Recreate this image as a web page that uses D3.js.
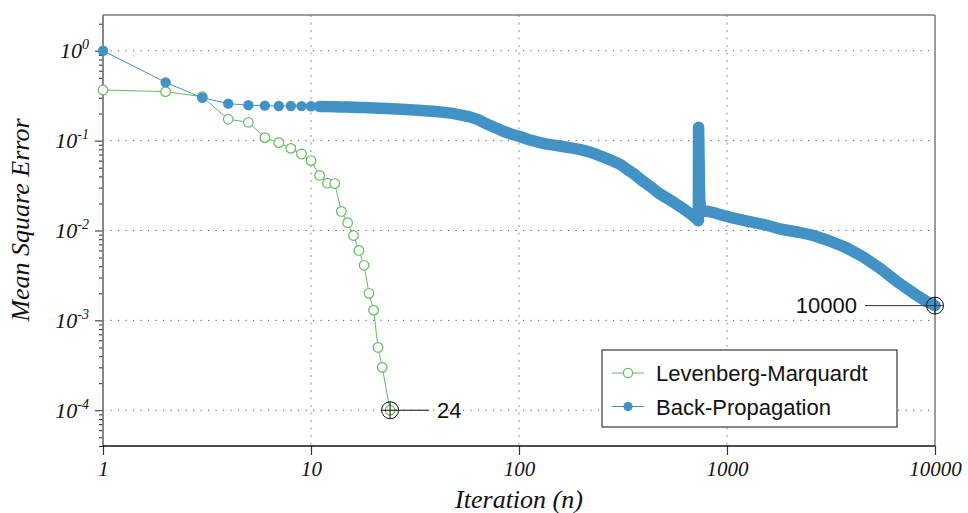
<!DOCTYPE html>
<html>
<head>
<meta charset="utf-8">
<script src="https://cdn.jsdelivr.net/npm/d3@7"></script>
<style>
  body { margin: 0; background: #fff; }
</style>
</head>
<body>
<svg id="chart" width="968" height="513"></svg>
<script>
// Training error per iteration for two training algorithms
const seriesNames = ["Levenberg-Marquardt", "Back-Propagation"];

const lmIter = [1, 2, 3, 4, 5, 6, 7, 8, 9, 10, 11, 12, 13, 14, 15, 16, 17, 18, 19, 20, 21, 22, 24];
const lmMse  = [0.366, 0.351, 0.308, 0.173, 0.160, 0.108, 0.095, 0.082, 0.071, 0.060,
                0.041, 0.0336, 0.0333, 0.0163, 0.0122, 0.0088, 0.0060, 0.0041, 0.0020,
                0.0013, 0.00050, 0.00030, 0.00010];

const bpIter = [1, 2, 3, 4, 5, 6, 7, 8, 9, 10, 11, 12, 13, 14, 15, 16, 17, 18, 19, 20,
                23, 26, 30, 34, 40, 48, 58, 64, 70, 77, 84, 92, 101, 111, 122, 134, 147,
                162, 177, 195, 213, 233, 256, 280, 308, 335, 355, 390, 427, 470, 513, 565,
                620, 670, 718, 728, 730, 731, 732, 733, 734, 735, 736, 737, 738, 740, 745,
                760, 800, 875, 960, 1066, 1250, 1540, 1800, 2236, 2600, 3100, 3760, 4500,
                5440, 6560, 7900, 9000, 10000];
const bpMse  = [1.0, 0.445, 0.300, 0.258, 0.248, 0.245, 0.243, 0.243, 0.242, 0.241,
                0.240, 0.239, 0.238, 0.237, 0.236, 0.235, 0.234, 0.233, 0.232, 0.231,
                0.228, 0.225, 0.221, 0.217, 0.211, 0.201, 0.184, 0.170, 0.153, 0.139,
                0.127, 0.118, 0.111, 0.103, 0.097, 0.092, 0.089, 0.086, 0.083, 0.080,
                0.076, 0.071, 0.065, 0.060, 0.054, 0.047, 0.043, 0.036, 0.031, 0.026,
                0.023, 0.020, 0.0173, 0.0152, 0.0133, 0.0128, 0.141, 0.118, 0.100, 0.080,
                0.062, 0.050, 0.041, 0.033, 0.027, 0.022, 0.018, 0.0165, 0.0164, 0.0157,
                0.0147, 0.0138, 0.0127, 0.0115, 0.0104, 0.0095, 0.0088, 0.0077, 0.0064,
                0.0051, 0.0038, 0.0027, 0.0020, 0.00165, 0.00146];

const xTicks = [1, 10, 100, 1000, 10000];
const yTicks = [1, 0.1, 0.01, 0.001, 0.0001];

const lmColor = "#62bb62";
const bpColor = "#4292c6";
const serif = "'Liberation Serif', 'Times New Roman', serif";
const sans = "'Liberation Sans', Arial, Helvetica, sans-serif";

const plot = { left: 103, right: 935, top: 15, bottom: 446 };
const x = d3.scaleLog().domain([1, 10000]).range([plot.left, plot.right]);
const y = d3.scaleLog().domain([4e-5, 2.5]).range([plot.bottom, plot.top]);

const svg = d3.select("#chart");

const lmData = lmIter.map((n, i) => ({ n, v: lmMse[i] }));
const bpData = bpIter.map((n, i) => ({ n, v: bpMse[i] }));

// Grid: horizontal dotted lines at each decade, lighter vertical ones
svg.append("g").selectAll("line").data(yTicks).join("line")
  .attr("x1", plot.left).attr("x2", plot.right)
  .attr("y1", d => y(d)).attr("y2", d => y(d))
  .attr("stroke", "#555").attr("stroke-width", 1)
  .attr("stroke-dasharray", "1.2,6.3");
svg.append("g").selectAll("line").data(xTicks.filter(d => d > 1 && d < 10000)).join("line")
  .attr("x1", d => x(d)).attr("x2", d => x(d))
  .attr("y1", plot.top).attr("y2", plot.bottom)
  .attr("stroke", "#b5b5b5").attr("stroke-width", 1.5)
  .attr("stroke-dasharray", "2,5.5");

// Y axis: major decade ticks with power-of-ten labels, minor ticks in between
const yMinor = [];
for (let e = -5; e <= 0; e++) {
  for (let m = 2; m <= 9; m++) {
    const v = m * Math.pow(10, e);
    if (v >= 4e-5 && v <= 2.5) yMinor.push(v);
  }
}
const yMajorAxis = svg.append("g").attr("transform", `translate(${plot.left},0)`)
  .call(d3.axisLeft(y).tickValues(yTicks).tickSize(8).tickFormat(""));
const yMinorAxis = svg.append("g").attr("transform", `translate(${plot.left},0)`)
  .call(d3.axisLeft(y).tickValues(yMinor).tickSize(4).tickFormat(""));
[yMajorAxis, yMinorAxis].forEach(g => {
  g.select(".domain").remove();
  g.selectAll(".tick line").attr("stroke", "#222").attr("stroke-width", 1);
});

const yLabels = svg.append("g").selectAll("text").data(yTicks).join("text")
  .attr("x", plot.left - 14)
  .attr("y", d => y(d) + 7.5)
  .attr("text-anchor", "end")
  .attr("font-family", serif)
  .attr("font-style", "italic")
  .attr("font-size", 22)
  .attr("fill", "#111");
yLabels.append("tspan").text("10");
yLabels.append("tspan")
  .attr("font-size", 14)
  .attr("dy", -9)
  .text(d => String(Math.round(Math.log10(d))));

// X axis
const xAxis = svg.append("g").attr("transform", `translate(0,${plot.bottom})`)
  .call(d3.axisBottom(x).tickValues(xTicks).tickSize(9).tickFormat(d3.format("d")));
xAxis.select(".domain").remove();
xAxis.selectAll(".tick line").attr("stroke", "#333").attr("stroke-width", 1.2);
xAxis.selectAll(".tick text")
  .attr("y", 15)
  .attr("font-family", serif)
  .attr("font-style", "italic")
  .attr("font-size", 21)
  .attr("fill", "#111");

// Plot frame
const frame = svg.append("g");
frame.append("line").attr("x1", plot.left).attr("x2", plot.right)
  .attr("y1", plot.top).attr("y2", plot.top)
  .attr("stroke", "#7a7a7a").attr("stroke-width", 1.5);
frame.append("line").attr("x1", plot.left).attr("x2", plot.left)
  .attr("y1", plot.top).attr("y2", plot.bottom)
  .attr("stroke", "#7a7a7a").attr("stroke-width", 1.8);
frame.append("line").attr("x1", plot.right).attr("x2", plot.right)
  .attr("y1", plot.top).attr("y2", plot.bottom)
  .attr("stroke", "#7a7a7a").attr("stroke-width", 1.5);
frame.append("line").attr("x1", plot.left).attr("x2", plot.right)
  .attr("y1", plot.bottom).attr("y2", plot.bottom)
  .attr("stroke", "#111").attr("stroke-width", 1.3);

// Axis titles
svg.append("text")
  .attr("x", (plot.left + plot.right) / 2).attr("y", 507.5)
  .attr("text-anchor", "middle")
  .attr("font-family", serif).attr("font-style", "italic").attr("font-size", 26)
  .attr("fill", "#111")
  .text("Iteration (n)");
svg.append("text")
  .attr("transform", "translate(29,220) rotate(-90)")
  .attr("text-anchor", "middle")
  .attr("font-family", serif).attr("font-style", "italic").attr("font-size", 26)
  .attr("fill", "#111")
  .text("Mean Square Error");

const line = d3.line().x(d => x(d.n)).y(d => y(d.v));

// Levenberg-Marquardt: thin line with open circles
svg.append("path").datum(lmData)
  .attr("d", line).attr("fill", "none")
  .attr("stroke", lmColor).attr("stroke-width", 1);
svg.append("g").selectAll("circle").data(lmData).join("circle")
  .attr("cx", d => x(d.n)).attr("cy", d => y(d.v)).attr("r", 4.8)
  .attr("fill", "#fff").attr("stroke", lmColor).attr("stroke-width", 1.2);

// Back-Propagation: filled markers; where iterations crowd together they merge into a band
svg.append("path").datum(bpData.filter(d => d.n >= 11))
  .attr("d", line).attr("fill", "none")
  .attr("stroke", bpColor).attr("stroke-width", 11.5)
  .attr("stroke-linecap", "round").attr("stroke-linejoin", "round");
svg.append("path").datum(bpData)
  .attr("d", line).attr("fill", "none")
  .attr("stroke", bpColor).attr("stroke-width", 1);
svg.append("g").selectAll("circle").data(bpData).join("circle")
  .attr("cx", d => x(d.n)).attr("cy", d => y(d.v)).attr("r", 5.2)
  .attr("fill", bpColor);

// Final-iteration callouts
function callout(pt, side) {
  const cx = x(pt.n), cy = y(pt.v), r = 8.5;
  const g = svg.append("g");
  g.append("circle").attr("cx", cx).attr("cy", cy).attr("r", r)
    .attr("fill", "none").attr("stroke", "#111").attr("stroke-width", 1);
  g.append("line").attr("x1", cx).attr("x2", cx).attr("y1", cy - r).attr("y2", cy + r)
    .attr("stroke", "#111").attr("stroke-width", 1);
  const label = String(pt.n);
  if (side === "right") {
    g.append("line").attr("x1", cx - r).attr("x2", cx + 39).attr("y1", cy).attr("y2", cy)
      .attr("stroke", "#111").attr("stroke-width", 1);
    g.append("text").attr("x", cx + 47).attr("y", cy + 7.5)
      .attr("font-family", sans).attr("font-size", 22).attr("fill", "#111").text(label);
  } else {
    g.append("line").attr("x1", cx - 70).attr("x2", cx + r).attr("y1", cy).attr("y2", cy)
      .attr("stroke", "#333").attr("stroke-width", 1);
    g.append("text").attr("x", cx - 78).attr("y", cy + 7.5)
      .attr("text-anchor", "end")
      .attr("font-family", sans).attr("font-size", 22).attr("fill", "#111").text(label);
  }
}
callout(lmData[lmData.length - 1], "right");
callout(bpData[bpData.length - 1], "left");

// Legend
const legend = svg.append("g").attr("transform", "translate(602,350)");
legend.append("rect").attr("width", 295).attr("height", 77)
  .attr("fill", "#fff").attr("stroke", "#111").attr("stroke-width", 1);
const rows = [
  { name: seriesNames[0], color: lmColor, open: true, y: 23 },
  { name: seriesNames[1], color: bpColor, open: false, y: 56.5 }
];
rows.forEach(r => {
  legend.append("line").attr("x1", 10).attr("x2", 42).attr("y1", r.y).attr("y2", r.y)
    .attr("stroke", r.color).attr("stroke-width", 1);
  legend.append("circle").attr("cx", 26).attr("cy", r.y).attr("r", 4.6)
    .attr("fill", r.open ? "#fff" : r.color)
    .attr("stroke", r.open ? r.color : "none").attr("stroke-width", 1.2);
  legend.append("text").attr("x", 54).attr("y", r.y + 8)
    .attr("font-family", sans).attr("font-size", 22).attr("fill", "#111").text(r.name);
});
</script>
</body>
</html>
